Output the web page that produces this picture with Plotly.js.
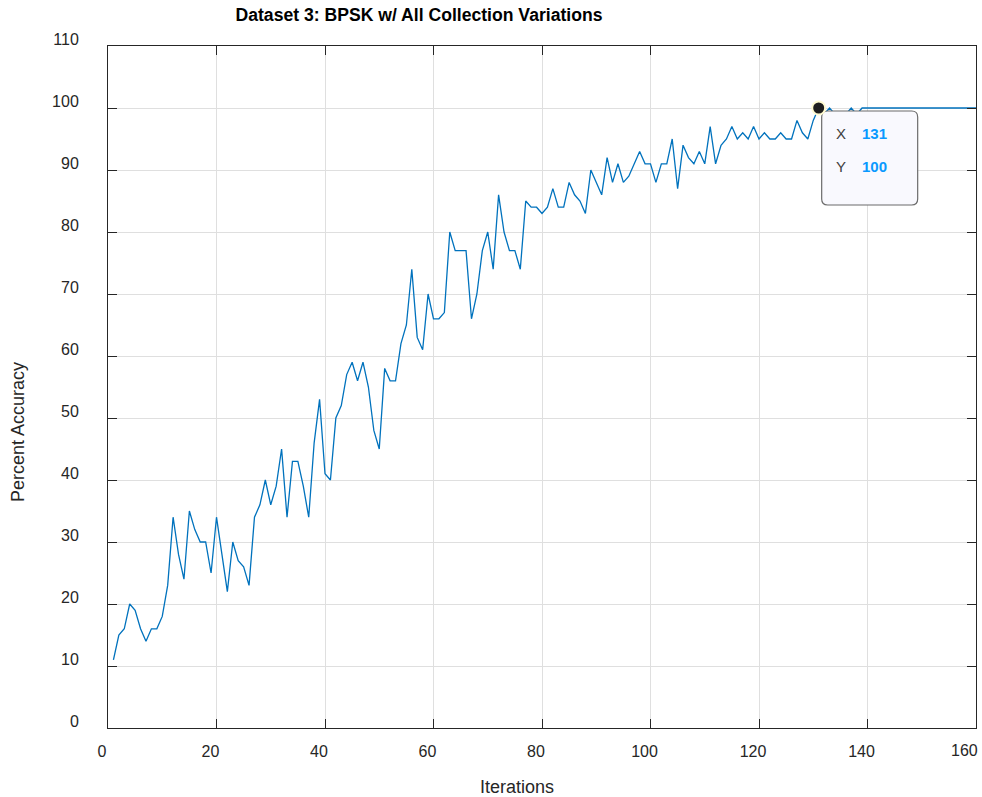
<!DOCTYPE html>
<html>
<head>
<meta charset="utf-8">
<script src="https://cdn.plot.ly/plotly-3.0.1.min.js"></script>
<style>html,body{margin:0;padding:0;background:#fff;}#chart{width:982px;height:797px;}</style>
</head>
<body>
<div id="chart"></div>
<script>
// ---- data ----
const titleText = "Dataset 3: BPSK w/ All Collection Variations";
const xLabel = "Iterations";
const yLabel = "Percent Accuracy";

const accuracy = [
  11, 15, 16, 20, 19, 16, 14, 16, 16, 18,
  23, 34, 28, 24, 35, 32, 30, 30, 25, 34,
  28, 22, 30, 27, 26, 23, 34, 36, 40, 36,
  39, 45, 34, 43, 43, 39, 34, 46, 53, 41,
  40, 50, 52, 57, 59, 56, 59, 55, 48, 45,
  58, 56, 56, 62, 65, 74, 63, 61, 70, 66,
  66, 67, 80, 77, 77, 77, 66, 70, 77, 80,
  74, 86, 80, 77, 77, 74, 85, 84, 84, 83,
  84, 87, 84, 84, 88, 86, 85, 83, 90, 88,
  86, 92, 88, 91, 88, 89, 91, 93, 91, 91,
  88, 91, 91, 95, 87, 94, 92, 91, 93, 91,
  97, 91, 94, 95, 97, 95, 96, 95, 97, 95,
  96, 95, 95, 96, 95, 95, 98, 96, 95, 98,
  100, 99, 100, 99, 99, 99, 100, 99, 100, 100,
  100, 100, 100, 100, 100, 100, 100, 100, 100, 100,
  100, 100, 100, 100, 100, 100, 100, 100, 100, 100
];
const iterations = accuracy.map((_, i) => i + 1);

const xTicks = [0, 20, 40, 60, 80, 100, 120, 140, 160];
const yTicks = [0, 10, 20, 30, 40, 50, 60, 70, 80, 90, 100, 110];

const tipIndex = 130; // data tip on iteration 131
const tipX = iterations[tipIndex];
const tipY = accuracy[tipIndex];

// ---- drawing ----
const FONT = "Liberation Sans, Arial, Helvetica, sans-serif";
const TXT = "#262626";

const traces = [{
  x: iterations,
  y: accuracy,
  type: "scatter",
  mode: "lines",
  line: {color: "#0072BD", width: 1.3},
  hoverinfo: "skip"
}];

function rrect(x0, y0, w, h, r) {
  const x1 = x0 + w, y1 = y0 + h;
  const Y = v => -v;
  return `M ${x0 + r} ${Y(y0)} L ${x1 - r} ${Y(y0)} Q ${x1} ${Y(y0)} ${x1} ${Y(y0 + r)} ` +
         `L ${x1} ${Y(y1 - r)} Q ${x1} ${Y(y1)} ${x1 - r} ${Y(y1)} L ${x0 + r} ${Y(y1)} ` +
         `Q ${x0} ${Y(y1)} ${x0} ${Y(y1 - r)} L ${x0} ${Y(y0 + r)} Q ${x0} ${Y(y0)} ${x0 + r} ${Y(y0)} Z`;
}

// the last x label sits pulled inside the figure edge (as in the reference): drawn as an annotation
const lastX = xTicks[xTicks.length - 1];
const xTickText = xTicks.map((v, i) => i === xTicks.length - 1 ? "" : String(v));

const axisCommon = {
  showline: true, linecolor: TXT, linewidth: 1,
  mirror: "allticks", ticks: "inside", ticklen: 9, tickcolor: TXT, tickwidth: 1,
  showgrid: true, gridcolor: "#dfdfdf", gridwidth: 1,
  zeroline: false, fixedrange: true,
  ticklabeloverflow: "allow",
  tickfont: {family: FONT, size: 16, color: TXT}
};

const layout = {
  width: 982, height: 797,
  margin: {l: 108, r: 6, t: 46, b: 69},
  paper_bgcolor: "#fff", plot_bgcolor: "#fff",
  showlegend: false,
  title: {
    text: "<b>" + titleText + "</b>",
    font: {family: FONT, size: 17.6, color: "#000"},
    xref: "container", yref: "container",
    x: 419 / 982, xanchor: "center",
    y: 1 - 15 / 797, yanchor: "middle"
  },
  xaxis: Object.assign({}, axisCommon, {
    range: [0, 160], tickvals: xTicks, ticktext: xTickText,
    ticklabelshift: -6, ticklabelstandoff: 9
  }),
  yaxis: Object.assign({}, axisCommon, {
    range: [0, 110], tickvals: yTicks, ticktext: yTicks.map(String),
    ticklabelshift: -7, ticklabelstandoff: 25
  }),
  shapes: [
    {
      type: "path", layer: "above",
      xref: "x", yref: "y", xsizemode: "pixel", ysizemode: "pixel",
      xanchor: tipX, yanchor: tipY,
      path: rrect(3, 3, 96, 94, 6),
      fillcolor: "#f9f9fe", line: {color: "#6b6b6b", width: 1.2}
    },
    {
      type: "circle", layer: "above",
      xref: "x", yref: "y", xsizemode: "pixel", ysizemode: "pixel",
      xanchor: tipX, yanchor: tipY,
      x0: -6.5, x1: 6.5, y0: -6.5, y1: 6.5,
      fillcolor: "#1e1e1e", line: {color: "#fffbd2", width: 2}
    }
  ],
  annotations: [
    {text: String(lastX), x: lastX, y: 0, xref: "x", yref: "paper", showarrow: false,
     xanchor: "right", yanchor: "middle", xshift: 4, yshift: -22,
     font: {family: FONT, size: 16, color: TXT}},
    {text: "X", x: tipX, y: tipY, xref: "x", yref: "y", showarrow: false,
     xanchor: "center", yanchor: "middle", xshift: 22, yshift: -25,
     font: {family: FONT, size: 15, color: "#404040"}},
    {text: "<b>" + String(tipX) + "</b>", x: tipX, y: tipY, xref: "x", yref: "y", showarrow: false,
     xanchor: "left", yanchor: "middle", xshift: 41, yshift: -25,
     font: {family: FONT, size: 15, color: "#0a99ff"}},
    {text: "Y", x: tipX, y: tipY, xref: "x", yref: "y", showarrow: false,
     xanchor: "center", yanchor: "middle", xshift: 22, yshift: -58,
     font: {family: FONT, size: 15, color: "#404040"}},
    {text: "<b>" + String(tipY) + "</b>", x: tipX, y: tipY, xref: "x", yref: "y", showarrow: false,
     xanchor: "left", yanchor: "middle", xshift: 41, yshift: -58,
     font: {family: FONT, size: 15, color: "#0a99ff"}},
    {text: xLabel, xref: "paper", yref: "paper", x: (517 - 108) / 868, y: -(787 - 728) / 682,
     xanchor: "center", yanchor: "middle", showarrow: false,
     font: {family: FONT, size: 18, color: TXT}},
    {text: yLabel, xref: "paper", yref: "paper", x: -(108 - 18) / 868, y: (728 - 432) / 682,
     xanchor: "center", yanchor: "middle", showarrow: false, textangle: -90,
     font: {family: FONT, size: 18, color: TXT}}
  ]
};

Plotly.newPlot("chart", traces, layout, {displayModeBar: false, staticPlot: true});
</script>
</body>
</html>
